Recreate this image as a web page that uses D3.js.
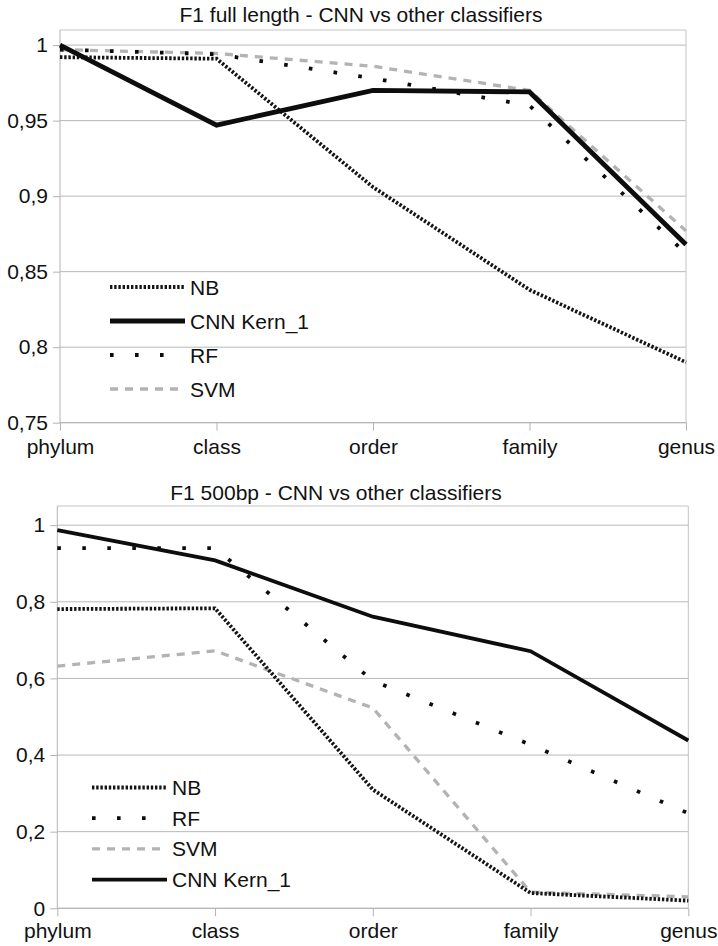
<!DOCTYPE html>
<html>
<head>
<meta charset="utf-8">
<script src="https://cdn.jsdelivr.net/npm/d3@7"></script>
<style>
  html, body { margin: 0; padding: 0; background: #fff; }
  svg text { font-family: "Liberation Sans", Arial, sans-serif; fill: #111; }
</style>
</head>
<body>
<svg id="chart" width="718" height="946"></svg>
<script>
// Taxonomic ranks shared by both panels
const categories = ["phylum", "class", "order", "family", "genus"];

// Panel 1: F1 on full-length sequences
const fullNB  = [0.992, 0.991, 0.906, 0.838, 0.790];
const fullCNN = [1.000, 0.947, 0.970, 0.969, 0.868];
const fullRF  = [0.997, 0.994, 0.978, 0.960, 0.862];
const fullSVM = [0.997, 0.9945, 0.986, 0.970, 0.877];
const fullTicks = [0.75, 0.8, 0.85, 0.9, 0.95, 1];

// Panel 2: F1 on 500bp fragments
const bpNB  = [0.781, 0.783, 0.310, 0.040, 0.020];
const bpRF  = [0.940, 0.940, 0.594, 0.427, 0.248];
const bpSVM = [0.632, 0.672, 0.523, 0.042, 0.030];
const bpCNN = [0.987, 0.908, 0.761, 0.671, 0.438];
const bpTicks = [0, 0.2, 0.4, 0.6, 0.8, 1];

// Decimal comma formatting for the value axis
const locale = d3.formatLocale({ decimal: ",", thousands: ".", grouping: [3], currency: ["", ""] });
const fmt = locale.format("~g");

// Stroke styles per classifier
const styles = {
  NB:  { stroke: "#141414", width: 3.8, dash: "2.4,1.8", cap: "butt" },
  CNN: { stroke: "#0d0d0d", width: 4.6, dash: null, cap: "butt" },
  RF:  { stroke: "#0d0d0d", width: 3.8, dash: "3.6,21.4", cap: "butt" },
  SVM: { stroke: "#b3b3b3", width: 3.3, dash: "8,7", cap: "butt" }
};

const svg = d3.select("#chart");

function drawPanel(cfg) {
  const g = svg.append("g");
  const x = d3.scalePoint(categories, [cfg.left, cfg.right]);
  const y = d3.scaleLinear(cfg.domain, [cfg.bottom, cfg.top]);

  // title
  g.append("text")
    .attr("x", cfg.titleX).attr("y", cfg.titleY)
    .attr("text-anchor", "middle")
    .style("font-size", "21px")
    .text(cfg.title);

  // horizontal gridlines
  g.append("g").selectAll("line").data(cfg.ticks).join("line")
    .attr("x1", cfg.left).attr("x2", cfg.right)
    .attr("y1", d => y(d)).attr("y2", d => y(d))
    .attr("stroke", "#b8b8b8").attr("stroke-width", 1);

  // plot frame (top and right edges)
  g.append("path")
    .attr("d", `M${cfg.left},${cfg.top}H${cfg.right}V${cfg.bottom}`)
    .attr("fill", "none").attr("stroke", "#c4c4c4").attr("stroke-width", 1);

  // y axis
  const ya = g.append("g").attr("transform", `translate(${cfg.left},0)`)
    .call(d3.axisLeft(y).tickValues(cfg.ticks).tickFormat(fmt).tickSize(7).tickPadding(5));
  ya.select(".domain").attr("stroke", "#b3b3b3").attr("d", `M0,${cfg.top}V${cfg.bottom}`);
  ya.selectAll(".tick line").attr("stroke", "#b3b3b3");
  ya.selectAll("text").style("font-size", "21px").attr("fill", "#111").attr("font-family", null);

  // x axis
  const xa = g.append("g").attr("transform", `translate(0,${cfg.bottom})`)
    .call(d3.axisBottom(x).tickSize(8).tickPadding(cfg.xPad));
  xa.select(".domain").attr("stroke", "#b3b3b3").attr("d", `M${cfg.left},0H${cfg.right}`);
  xa.selectAll(".tick line").attr("stroke", "#b3b3b3");
  xa.selectAll("text").style("font-size", "21px").attr("fill", "#111").attr("font-family", null);

  // series lines
  const line = d3.line().x((d, i) => x(categories[i])).y(d => y(d));
  cfg.series.forEach(s => {
    const st = styles[s.key];
    g.append("path")
      .datum(s.values)
      .attr("d", line)
      .attr("fill", "none")
      .attr("stroke", st.stroke)
      .attr("stroke-width", s.key === "CNN" ? cfg.cnnWidth : st.width)
      .attr("stroke-dasharray", st.dash)
      .attr("stroke-linecap", st.cap)
      .attr("stroke-linejoin", "miter");
  });

  // legend
  const lg = g.append("g");
  cfg.legend.forEach((item, i) => {
    const st = styles[item.key];
    const yy = cfg.legendY + i * cfg.legendStep;
    lg.append("line")
      .attr("x1", cfg.legendX).attr("x2", cfg.legendX + 75)
      .attr("y1", yy).attr("y2", yy)
      .attr("stroke", st.stroke)
      .attr("stroke-width", item.key === "CNN" ? cfg.cnnWidth : st.width)
      .attr("stroke-dasharray", st.dash)
      .attr("stroke-linecap", st.cap);
    lg.append("text")
      .attr("x", cfg.legendX + 80).attr("y", yy)
      .attr("dy", "0.36em")
      .style("font-size", "21px")
      .text(item.label);
  });
}

drawPanel({
  title: "F1 full length - CNN vs other classifiers",
  titleX: 361, titleY: 22,
  left: 60, right: 686, top: 30, bottom: 422.7,
  domain: [0.75, 1.01], ticks: fullTicks, xPad: 8,
  cnnWidth: 4.8,
  series: [
    { key: "SVM", values: fullSVM },
    { key: "RF", values: fullRF },
    { key: "NB", values: fullNB },
    { key: "CNN", values: fullCNN }
  ],
  legendX: 110, legendY: 287, legendStep: 34,
  legend: [
    { key: "NB", label: "NB" },
    { key: "CNN", label: "CNN Kern_1" },
    { key: "RF", label: "RF" },
    { key: "SVM", label: "SVM" }
  ]
});

drawPanel({
  title: "F1 500bp - CNN vs other classifiers",
  titleX: 336, titleY: 500,
  left: 57.3, right: 688.3, top: 506, bottom: 908.3,
  domain: [0, 1.05], ticks: bpTicks, xPad: 7,
  cnnWidth: 3.8,
  series: [
    { key: "SVM", values: bpSVM },
    { key: "RF", values: bpRF },
    { key: "NB", values: bpNB },
    { key: "CNN", values: bpCNN }
  ],
  legendX: 92, legendY: 787.5, legendStep: 30.7,
  legend: [
    { key: "NB", label: "NB" },
    { key: "RF", label: "RF" },
    { key: "SVM", label: "SVM" },
    { key: "CNN", label: "CNN Kern_1" }
  ]
});
</script>
</body>
</html>
